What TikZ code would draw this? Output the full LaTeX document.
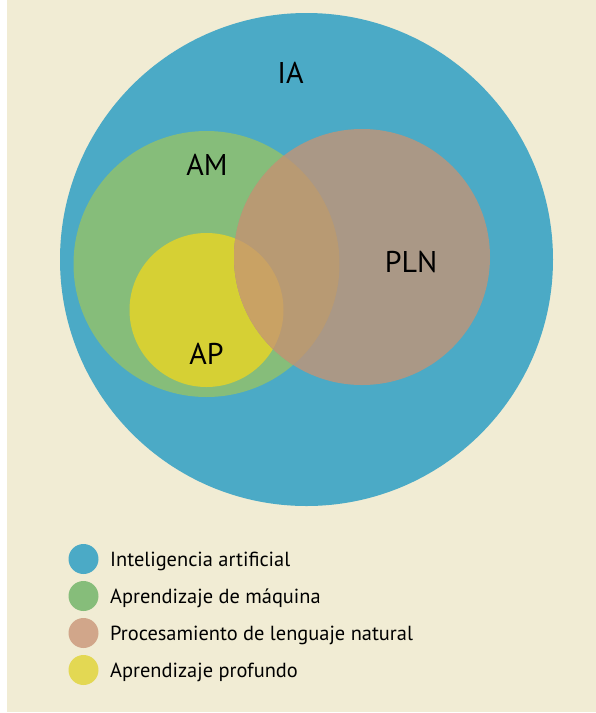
\documentclass[tikz,border=0pt]{standalone}
\usepackage{fontspec}
\setmainfont{PT Sans}
\definecolor{bgbeige}{HTML}{F1ECD4}
\definecolor{iablue}{HTML}{4BAAC6}
\definecolor{amgreen}{HTML}{86BD7A}
\definecolor{apyellow}{HTML}{D6D034}
\definecolor{plnbrown}{HTML}{AA9886}
\definecolor{amplnmix}{HTML}{B89A73}
\definecolor{applnmix}{HTML}{C9A264}
\definecolor{legblue}{HTML}{4BAAC6}
\definecolor{leggreen}{HTML}{86BD7A}
\definecolor{legpln}{HTML}{D1A68A}
\definecolor{legyellow}{HTML}{E3D853}
\begin{document}
\begin{tikzpicture}[x=1pt,y=-1pt,
  setcircle/.style={circle,inner sep=0pt,draw=none},
  lbl/.style={inner sep=0pt,anchor=base,font=\fontsize{30}{36}\selectfont},
  legdot/.style={circle,inner sep=0pt,minimum size=30pt,draw=none},
  legtext/.style={inner sep=0pt,anchor=base west,font=\fontsize{20.4}{24}\selectfont}]
\useasboundingbox (0,0) rectangle (596,713);
\fill[white] (0,0) rectangle (596,713);
\fill[bgbeige] (7,0) rectangle (596,712);
% sets
\node[setcircle,fill=iablue,minimum size=493pt] (ia) at (306.5,259.5) {};
\node[setcircle,fill=amgreen,minimum size=266pt] (am) at (206.5,264) {};
\node[setcircle,fill=apyellow,minimum size=154pt] (ap) at (206.5,310) {};
\node[setcircle,fill=plnbrown,minimum size=256pt] (pln) at (362,257) {};
\begin{scope}
  \clip (362,257) circle[radius=128];
  \fill[amplnmix] (206.5,264) circle[radius=133];
  \fill[applnmix] (206.5,310) circle[radius=77];
\end{scope}
% labels
\node[lbl] (tia) at (290.5,83) {IA};
\node[lbl] (tam) at (207,175) {AM};
\node[lbl] (tpln) at (411,272) {PLN};
\node[lbl] (tap) at (206.5,364) {AP};
% legend
\node[legdot,fill=legblue] (d1) at (83.5,559) {};
\node[legdot,fill=leggreen] (d2) at (83.5,596) {};
\node[legdot,fill=legpln] (d3) at (83.5,633) {};
\node[legdot,fill=legyellow] (d4) at (83.5,670) {};
\node[legtext] (l1) at (110,566) {Inteligencia artificial};
\node[legtext] (l2) at (110,603) {Aprendizaje de máquina};
\node[legtext] (l3) at (110,640) {Procesamiento de lenguaje natural};
\node[legtext] (l4) at (110,677) {Aprendizaje profundo};
\end{tikzpicture}
\end{document}
